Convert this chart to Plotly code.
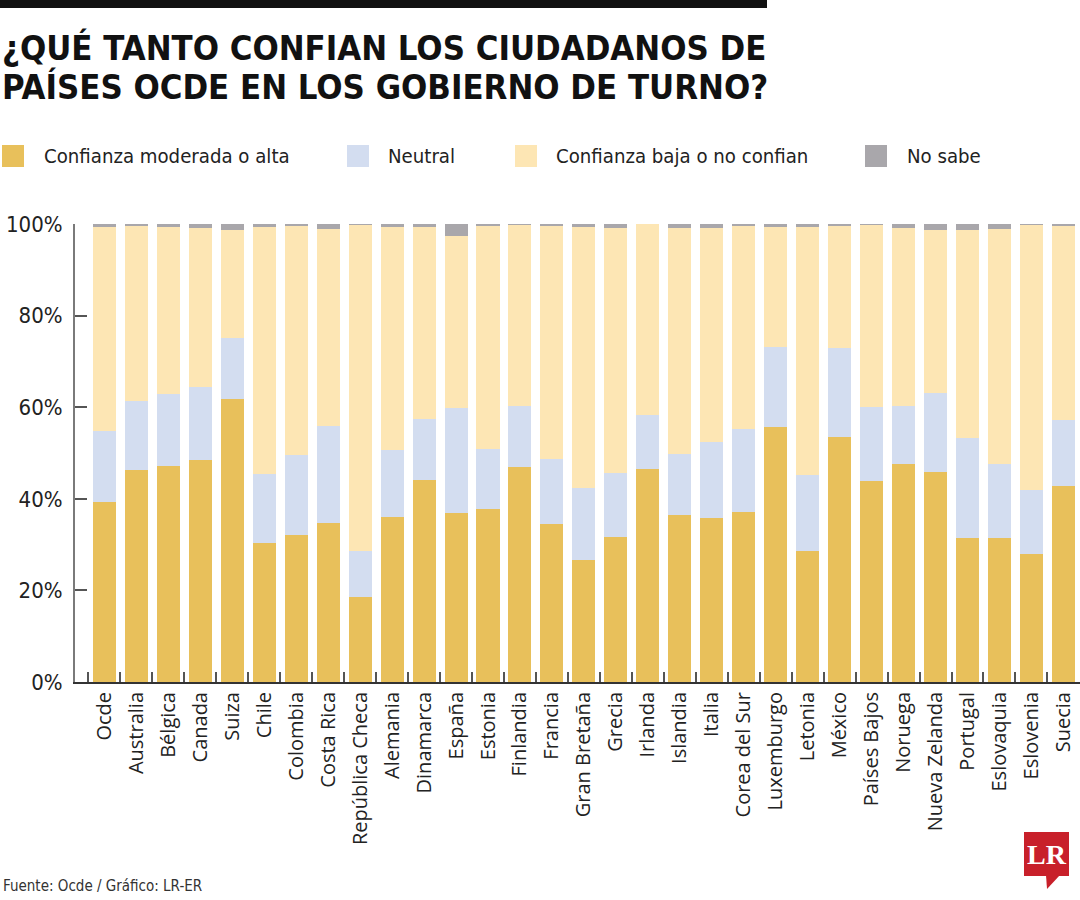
import plotly.graph_objects as go

paises = ["Ocde", "Australia", "Bélgica", "Canada", "Suiza", "Chile", "Colombia", "Costa Rica",
          "República Checa", "Alemania", "Dinamarca", "España", "Estonia", "Finlandia", "Francia",
          "Gran Bretaña", "Grecia", "Irlanda", "Islandia", "Italia", "Corea del Sur", "Luxemburgo",
          "Letonia", "México", "Países Bajos", "Noruega", "Nueva Zelanda", "Portugal", "Eslovaquia",
          "Eslovenia", "Suecia"]

alta = [39.3, 46.2, 47.2, 48.5, 61.9, 30.4, 32.2, 34.8, 18.6, 36.0, 44.1, 36.8, 37.8, 47.0, 34.4,
        26.7, 31.7, 46.6, 36.5, 35.9, 37.2, 55.6, 28.7, 53.6, 43.9, 47.7, 45.9, 31.5, 31.4, 27.9, 42.9]
neutral = [15.6, 15.2, 15.6, 15.9, 13.2, 15.1, 17.4, 21.1, 10.1, 14.6, 13.4, 23.1, 13.1, 13.2, 14.3,
           15.7, 14.0, 11.7, 13.3, 16.4, 18.0, 17.6, 16.6, 19.4, 16.2, 12.5, 17.2, 21.7, 16.3, 14.0, 14.2]
baja = [44.4, 38.2, 36.5, 34.7, 23.5, 53.8, 49.9, 43.1, 71.1, 48.8, 41.9, 37.5, 48.8, 39.7, 50.9,
        56.9, 53.4, 41.7, 49.3, 46.8, 44.4, 26.1, 54.0, 26.7, 39.7, 38.9, 35.5, 45.5, 51.2, 57.9, 42.5]
no_sabe = [0.7, 0.4, 0.7, 0.9, 1.4, 0.7, 0.5, 1.0, 0.2, 0.6, 0.6, 2.6, 0.3, 0.1, 0.4,
           0.7, 0.9, 0.0, 0.9, 0.9, 0.4, 0.7, 0.7, 0.3, 0.2, 0.9, 1.4, 1.3, 1.1, 0.2, 0.4]

series_names = ["Confianza moderada o alta", "Neutral", "Confianza baja o no confian", "No sabe"]
colors = ["#E8C05B", "#D3DDF0", "#FDE6B4", "#A9A7AB"]

y_ticks = [0, 20, 40, 60, 80, 100]
y_ticklabels = ["0%", "20%", "40%", "60%", "80%", "100%"]

COND = "Liberation Sans Narrow, Arial Narrow, DejaVu Sans Condensed, Roboto Condensed, sans-serif"

W, H = 1080, 900
L, R, T, B = 75, 0, 224, 218
PW, PH = W - L - R, H - T - B


def px(x):
    return (x - L) / PW


def py(y):
    return (H - B - y) / PH


fig = go.Figure()
for name, vals, col in zip(series_names, [alta, neutral, baja, no_sabe], colors):
    fig.add_trace(go.Bar(x=paises, y=vals, name=name, marker=dict(color=col, line=dict(width=0)),
                         showlegend=False))

shapes = []
annotations = []

# top black rule
shapes.append(dict(type="rect", xref="paper", yref="paper", x0=px(0), x1=px(767), y0=py(0), y1=py(8),
                   fillcolor="#111111", line=dict(width=0), layer="above"))

# title
annotations.append(dict(text="¿QUÉ TANTO CONFIAN LOS CIUDADANOS DE", xref="paper", yref="paper",
                        x=px(0), y=py(48), xanchor="left", yanchor="middle", showarrow=False,
                        font=dict(family=COND, size=34.4, color="#111111", weight="bold")))
annotations.append(dict(text="PAÍSES OCDE EN LOS GOBIERNO DE TURNO?", xref="paper", yref="paper",
                        x=px(0), y=py(87), xanchor="left", yanchor="middle", showarrow=False,
                        font=dict(family=COND, size=34.4, color="#111111", weight="bold")))

# legend (manual)
leg_sq_x = [2, 347, 515, 865]
leg_tx_x = [42, 386, 554, 905]
for name, col, sx, tx in zip(series_names, colors, leg_sq_x, leg_tx_x):
    shapes.append(dict(type="rect", xref="paper", yref="paper", x0=px(sx), x1=px(sx + 22),
                       y0=py(145), y1=py(167), fillcolor=col, line=dict(width=0)))
    annotations.append(dict(text=name, xref="paper", yref="paper", x=px(tx), y=py(156),
                            xanchor="left", yanchor="middle", showarrow=False,
                            font=dict(family=COND, size=20.2, color="#222222")))

# source
annotations.append(dict(text="Fuente: Ocde / Gráfico: LR-ER", xref="paper", yref="paper",
                        x=px(1), y=py(886), xanchor="left", yanchor="middle", showarrow=False,
                        font=dict(family=COND, size=15, color="#333333")))

# logo
shapes.append(dict(type="rect", xref="paper", yref="paper", x0=px(1024), x1=px(1069),
                   y0=py(832), y1=py(876), fillcolor="#C8202A", line=dict(width=0)))
shapes.append(dict(type="path", xref="paper", yref="paper",
                   path=f"M {px(1046)} {py(875)} L {px(1060)} {py(875)} L {px(1047)} {py(889)} Z",
                   fillcolor="#C8202A", line=dict(width=0)))
annotations.append(dict(text="LR", xref="paper", yref="paper", x=px(1046.5), y=py(854),
                        xanchor="center", yanchor="middle", showarrow=False,
                        font=dict(family="Liberation Serif, DejaVu Serif, serif", size=28,
                                  color="white", weight="bold")))

fig.update_layout(
    width=W, height=H, autosize=False,
    margin=dict(l=L, r=R, t=T, b=B, pad=0),
    paper_bgcolor="white", plot_bgcolor="white",
    barmode="stack", bargap=0.28,
    shapes=shapes, annotations=annotations,
    showlegend=False,
    xaxis=dict(type="category", range=[-0.92, 30.52], showgrid=False, zeroline=False,
               showline=True, linecolor="#333333", linewidth=2,
               ticks="inside", tickson="boundaries", ticklen=10, tickcolor="#555555", tickwidth=1.5,
               tickangle=-90, tickfont=dict(family="Open Sans, Noto Sans, sans-serif", size=20,
                                            color="#222222")),
    yaxis=dict(range=[0, 100], showgrid=False, zeroline=False,
               showline=True, linecolor="#7a7a7a", linewidth=2,
               ticks="inside", ticklen=12, tickcolor="#555555", tickwidth=1.5,
               tickvals=y_ticks, ticktext=y_ticklabels, ticklabelstandoff=6,
               tickfont=dict(family=COND, size=22, color="#222222")),
)

fig.write_html("out.html", config={"displayModeBar": False},
               post_script="document.body.style.margin='0';document.body.style.padding='0';"
                           "document.body.style.overflow='hidden';")
